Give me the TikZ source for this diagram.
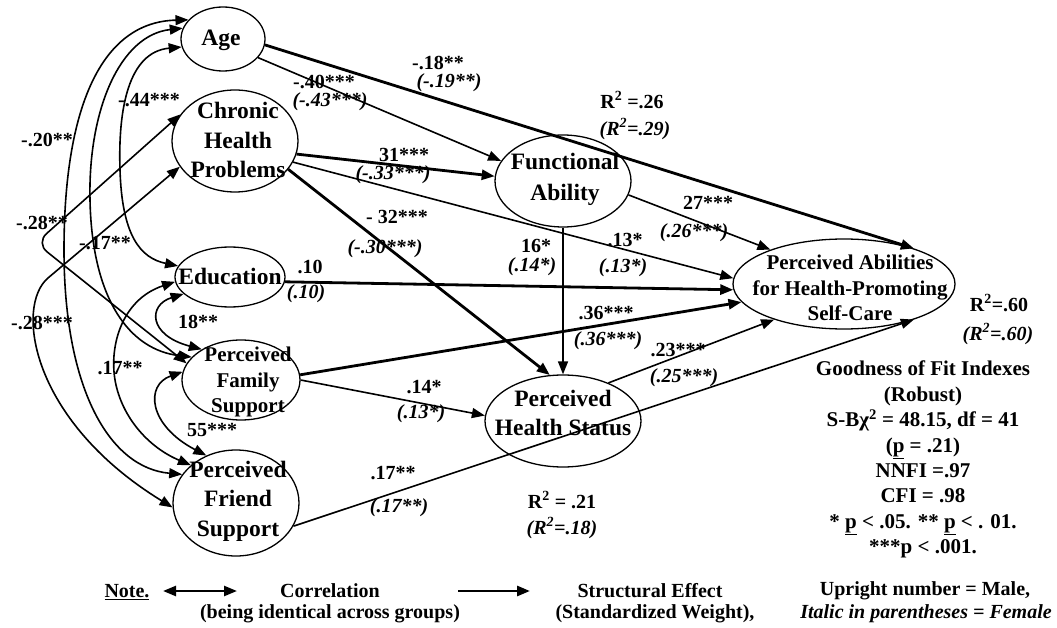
\documentclass[tikz,border=0pt]{standalone}
\usepackage{fontspec}
\setmainfont{Liberation Serif}
\usetikzlibrary{arrows.meta,shapes.geometric}
\begin{document}
\begin{tikzpicture}[x=1pt,y=-1pt,
  latent/.style={draw, ellipse, line width=1.3pt, inner sep=0pt},
  vtxt/.style={align=center, inner sep=0pt, font=\bfseries\fontsize{23.5}{29.5}\selectfont},
  vtxts/.style={align=center, inner sep=0pt, font=\bfseries\fontsize{21}{25.5}\selectfont},
  lab/.style={inner sep=0pt, font=\bfseries\fontsize{20}{24}\selectfont},
  labi/.style={inner sep=0pt, font=\bfseries\itshape\fontsize{20}{24}\selectfont},
  goftxt/.style={align=center, inner sep=0pt, font=\bfseries\fontsize{21}{25.4}\selectfont},
  notetxt/.style={inner sep=0pt, font=\bfseries\fontsize{20}{24}\selectfont},
  effect/.style={line width=1.6pt, -{Triangle[length=13pt,width=10pt]}},
  strong/.style={line width=2.8pt, -{Triangle[length=13pt,width=10pt]}},
  corr/.style={line width=1.6pt, {Triangle[length=13pt,width=10pt]}-{Triangle[length=13pt,width=10pt]}},
]
\useasboundingbox (0,0) rectangle (1057,628);

% latent variables
\node[latent, minimum width=84pt,  minimum height=64pt]  (age)     at (223,39)  {};
\node[latent, minimum width=126pt, minimum height=102pt] (chronic) at (235,141) {};
\node[latent, minimum width=110pt, minimum height=60pt]  (edu)     at (230,277) {};
\node[latent, minimum width=118pt, minimum height=80pt]  (family)  at (241,380) {};
\node[latent, minimum width=126pt, minimum height=106pt] (friend)  at (236,503) {};
\node[latent, minimum width=136pt, minimum height=92pt]  (fa)      at (563,181) {};
\node[latent, minimum width=156pt, minimum height=92pt]  (phs)     at (563,421) {};
\node[latent, minimum width=222pt, minimum height=90pt]  (pa)      at (844,284) {};

\node[vtxt] (agetx) at (221,40) {Age};
\node[vtxt] (chrtx) at (238,140) {Chronic\\Health\\Problems};
\node[vtxt] (edutx) at (230,276) {Education};
\node[vtxts] (famtx) at (248,382) {Perceived\\Family\\Support};
\node[vtxt] (fritx) at (238,501) {Perceived\\Friend\\Support};
\node[vtxt, font=\bfseries\fontsize{23.5}{31}\selectfont] (fatx) at (565,179) {Functional\\Ability};
\node[vtxt] (phstx) at (563,413) {Perceived\\Health Status};
\node[vtxts] (patx) at (850,288) {Perceived Abilities\\for Health-Promoting\\Self-Care};

% correlations among the exogenous variables
\draw[corr] (age.151) .. controls (100,22) and (64,110) .. (64,250)
            .. controls (64,390) and (110,468) .. (friend.152);
\draw[corr] (age.165) .. controls (120,35) and (88,110) .. (90,200)
            .. controls (92,300) and (130,350) .. (family.155);
\draw[corr] (age.191) .. controls (128,52) and (118,110) .. (120,170)
            .. controls (122,235) and (140,258) .. (edu.168);
\draw[corr, rounded corners=14pt] (chronic.154) -- (36,243) -- (family.163);
\draw[corr] (chronic.205) -- (48,278) .. controls (15,306) and (30,420) .. (friend.184);
\draw[corr] (edu.185) .. controls (120,300) and (108,350) .. (116,385)
            .. controls (124,420) and (150,448) .. (friend.140);
\draw[corr] (edu.200) .. controls (148,305) and (148,335) .. (family.142);
\draw[corr] (family.172) .. controls (145,385) and (148,425) .. (friend.122);

% structural effects
\draw[strong] (age.-8) -- (pa.27);
\draw[effect] (age.-28) -- (fa.162);
\draw[strong] (chronic.-12) -- (fa.176);
\draw[effect] (chronic.-20) -- (pa.177);
\draw[strong] (chronic.-28) -- (phs.106);
\draw[effect] (fa.south) -- (phs.north);
\draw[effect] (fa.-12) -- (pa.155);
\draw[strong] (edu.-5) -- (pa.183);
\draw[strong] (family.5) -- (pa.190);
\draw[effect] (family.0) -- (phs.176);
\draw[effect] (phs.40) -- (pa.207);
\draw[effect] (friend.-22) -- (pa.-27);

% path coefficients (male upright, female italic)
\node[lab]  (c1m) at (438,63)  {-.18**};
\node[labi] (c1f) at (449,83)  {(-.19**)};
\node[lab]  (c2m) at (324,82)  {-.40***};
\node[labi] (c2f) at (330,102) {(-.43***)};
\node[lab]  (c3m) at (404,155) {31***};
\node[labi] (c3f) at (393,175) {(-.33***)};
\node[lab]  (c4m) at (397,217) {- 32***};
\node[labi] (c4f) at (385,249) {(-.30***)};
\node[lab]  (c5m) at (536,246) {16*};
\node[labi] (c5f) at (532,267) {(.14*)};
\node[lab]  (c6m) at (625,240) {.13*};
\node[labi] (c6f) at (623,268) {(.13*)};
\node[lab]  (c7m) at (310,267) {.10};
\node[labi] (c7f) at (306,294) {(.10)};
\node[lab]  (c8m) at (708,203) {27***};
\node[labi] (c8f) at (694,233) {(.26***)};
\node[lab]  (c9m) at (606,313) {.36***};
\node[labi] (c9f) at (608,341) {(.36***)};
\node[lab]  (c10m) at (424,387) {.14*};
\node[labi] (c10f) at (421,414) {(.13*)};
\node[lab]  (c11m) at (678,350) {.23***};
\node[labi] (c11f) at (684,378) {(.25***)};
\node[lab]  (c12m) at (393,473) {.17**};
\node[labi] (c12f) at (399,508) {(.17**)};

% explained variance
\node[lab]  (r1m) at (632,100) {R\textsuperscript{2} =.26};
\node[labi] (r1f) at (635,129) {(R\textsuperscript{2}=.29)};
\node[lab]  (r2m) at (999,303) {R\textsuperscript{2}=.60};
\node[labi] (r2f) at (998,334) {(R\textsuperscript{2}=.60)};
\node[lab]  (r3m) at (562,500) {R\textsuperscript{2} = .21};
\node[labi] (r3f) at (562,528) {(R\textsuperscript{2}=.18)};

% correlation coefficients
\node[lab] (k1) at (149,100) {-.44***};
\node[lab] (k2) at (47,140)  {-.20**};
\node[lab] (k3) at (42,223)  {-.28**};
\node[lab] (k4) at (105,243) {-.17**};
\node[lab] (k5) at (42,323)  {-.28***};
\node[lab] (k6) at (198,322) {18**};
\node[lab] (k7) at (120,368) {.17**};
\node[lab] (k8) at (212,430) {55***};

% fit indexes
\node[goftxt, anchor=north] (gof) at (923,361) {Goodness of Fit Indexes\\(Robust)\\S-Bχ\textsuperscript{2} = 48.15, df = 41\\(\underline{p} = .21)\\NNFI =.97\\CFI = .98\\* \underline{p} < .05. ** \underline{p} < . 01.\\***p < .001.};

% legend
\node[notetxt] (note) at (127,592) {\underline{Note.}};
\coordinate (ca) at (163,591);
\coordinate (cb) at (237,591);
\draw[corr, line width=2.4pt] (ca) -- (cb);
\node[notetxt] (lg1) at (330,591) {Correlation};
\node[notetxt] (lg2) at (330,614) {(being identical across groups)};
\coordinate (sa) at (458,591);
\coordinate (sb) at (530,591);
\draw[strong] (sa) -- (sb);
\node[notetxt] (lg3) at (650,591) {Structural Effect};
\node[notetxt] (lg4) at (655,614) {(Standardized Weight),};
\node[notetxt] (lg5) at (925,591) {Upright number = Male,};
\node[notetxt, font=\bfseries\itshape\fontsize{20}{24}\selectfont] (lg6) at (926,614) {Italic in parentheses = Female};
\end{tikzpicture}
\end{document}
